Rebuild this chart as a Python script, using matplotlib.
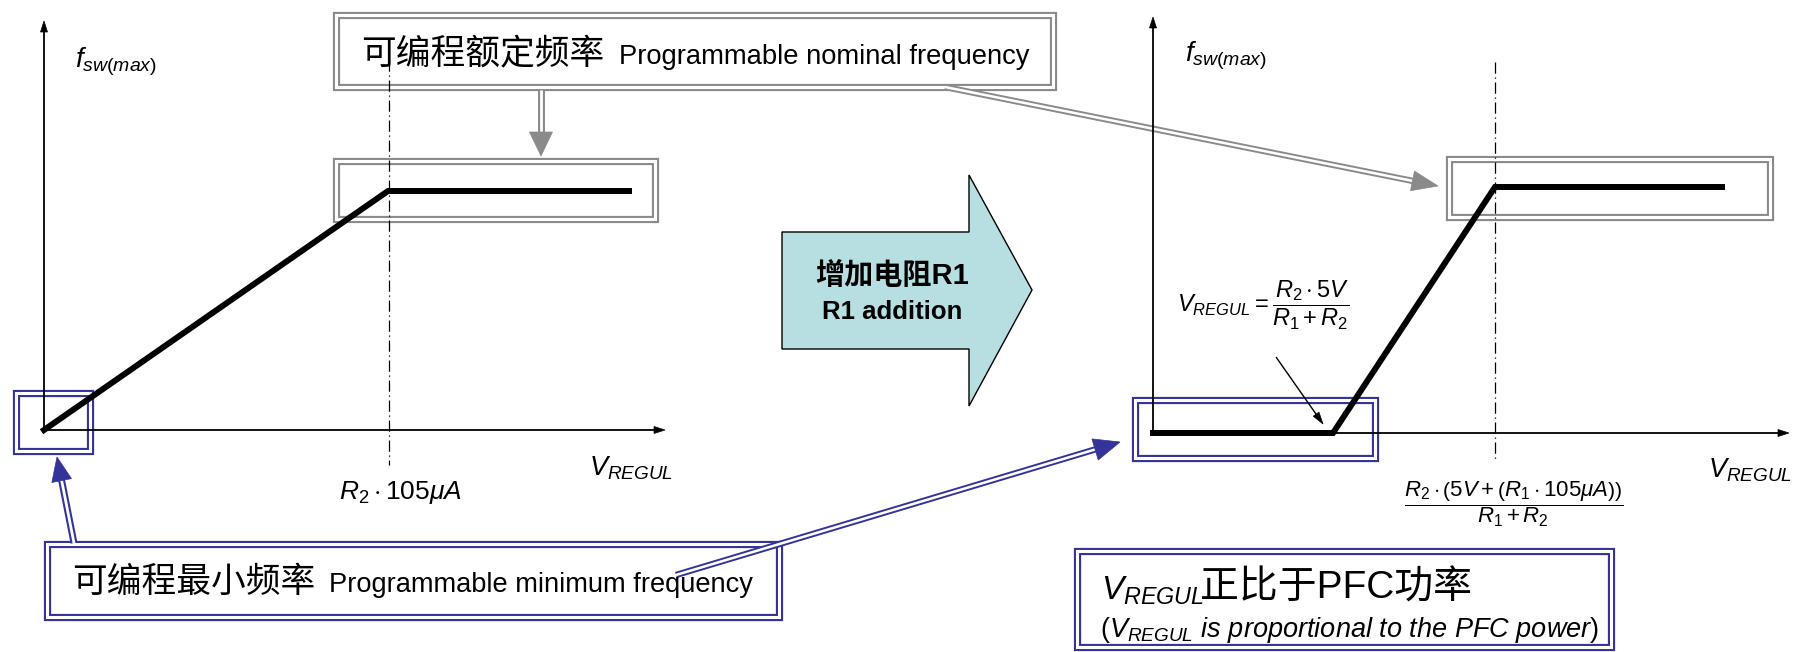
import numpy as np
import matplotlib
matplotlib.use("Agg")
import matplotlib.pyplot as plt
from matplotlib.patches import Polygon, Rectangle

plt.rcParams['mathtext.fontset'] = 'custom'
plt.rcParams['mathtext.rm'] = 'Liberation Sans'
plt.rcParams['mathtext.it'] = 'Liberation Sans:italic'
plt.rcParams['mathtext.bf'] = 'Liberation Sans:bold'

# diagram geometry, in pixels of the 1798x652 picture (y down)
left_curve_x = [44, 388, 629]
left_curve_y = [430, 191, 191]
right_curve_x = [1153, 1333, 1495, 1722]
right_curve_y = [433, 433, 187, 187]

left_origin = (44, 430)
left_axis_end = (665, 21)
right_origin = (1153, 433)
right_axis_end = (1789, 17)

left_mark_x = 389
right_mark_x = 1495

# boxes: x0, y0, x1, y1
gray_boxes = [(333, 12, 1056, 90), (333, 158, 658, 222), (1446, 156, 1773, 220)]
blue_boxes = [(13, 390, 93, 454), (44, 541, 782, 620), (1132, 397, 1378, 461), (1074, 548, 1614, 650)]

top_cn, top_en = "可编程额定频率", "Programmable nominal frequency"
bot_cn, bot_en = "可编程最小频率", "Programmable minimum frequency"
arrow_cn, arrow_en = "增加电阻R1", "R1 addition"

GRAY = '#8a8a8a'
BLUE = '#33339a'
TEAL = '#b7dfe1'
CN = ['Liberation Sans', 'Noto Sans CJK SC']

fig = plt.figure(figsize=(17.98, 6.52), dpi=100)
ax = fig.add_axes([0, 0, 1, 1])
ax.set_xlim(0, 1798)
ax.set_ylim(652, 0)
ax.axis('off')


def dbl_box(b, color):
    x0, y0, x1, y1 = b
    ax.add_patch(Rectangle((x0 + 3, y0 + 3), x1 - x0 - 6, y1 - y0 - 6, fill=False,
                           ec=color, lw=5.2, joinstyle='miter', zorder=2))
    ax.add_patch(Rectangle((x0 + 3, y0 + 3), x1 - x0 - 6, y1 - y0 - 6, fill=False,
                           ec='white', lw=2.2, joinstyle='miter', zorder=2))


def arrow(x0, y0, x1, y1, color, hl, hw, lw, double=False, z=3):
    d = np.array([x1 - x0, y1 - y0], float)
    d /= np.hypot(*d)
    p = np.array([-d[1], d[0]])
    base = np.array([x1, y1]) - d * hl
    ax.plot([x0, base[0] + d[0]], [y0, base[1] + d[1]], color=color, lw=lw,
            solid_capstyle='butt', zorder=z)
    if double:
        ax.plot([x0, base[0] + d[0]], [y0, base[1] + d[1]], color='white', lw=lw * 0.4,
                solid_capstyle='butt', zorder=z)
    tri = [(x1, y1), tuple(base + p * hw / 2), tuple(base - p * hw / 2)]
    ax.add_patch(Polygon(tri, closed=True, fc=color, ec=color, lw=0.5, zorder=z))


for b in gray_boxes:
    dbl_box(b, GRAY)
for b in blue_boxes:
    dbl_box(b, BLUE)

# axes
for (ox, oy), (ex, ey) in [(left_origin, left_axis_end), (right_origin, right_axis_end)]:
    arrow(ox, oy, ox, ey, 'black', 11, 7, 1.3, z=4)
    arrow(ox, oy, ex, oy, 'black', 11, 7, 1.3, z=4)

# dash-dot markers
ax.plot([left_mark_x, left_mark_x], [60, 465], color='black', lw=0.9,
        ls=(0, (9, 3, 1, 3)), zorder=3)
ax.plot([right_mark_x, right_mark_x], [62, 460], color='black', lw=0.9,
        ls=(0, (9, 3, 1, 3)), zorder=3)

# curves
ax.plot(left_curve_x, left_curve_y, color='black', lw=4.3, solid_joinstyle='miter', zorder=5)
ax.plot(right_curve_x, right_curve_y, color='black', lw=4.3, solid_joinstyle='miter', zorder=5)

# callout arrows
arrow(541, 90, 541, 156, GRAY, 24, 23, 5.0, double=True)
arrow(945, 87, 1438, 186, GRAY, 26, 20, 4.6, double=True)
arrow(74, 543, 57, 457, BLUE, 24, 20, 5.0, double=True)
arrow(676, 575, 1120, 442, BLUE, 26, 22, 4.6, double=True)
arrow(1276, 357, 1323, 424, 'black', 12, 7, 1.0)

# big teal arrow
big = [(782, 232), (969, 232), (969, 175), (1032, 290), (969, 406), (969, 349), (782, 349)]
ax.add_patch(Polygon(big, closed=True, fc=TEAL, ec='black', lw=1.0, zorder=2))
ax.text(892, 276, arrow_cn, ha='center', va='center', fontsize=21, fontweight='bold',
        family=CN, zorder=6)
ax.text(892, 312, arrow_en, ha='center', va='center', fontsize=18.5, fontweight='bold',
        family='Liberation Sans', zorder=6)

# box labels
ax.text(361, 64, top_cn, ha='left', va='baseline', fontsize=25, family=CN, zorder=6)
ax.text(619, 64, top_en, ha='left', va='baseline', fontsize=19.7, family='Liberation Sans', zorder=6)
ax.text(72, 592, bot_cn, ha='left', va='baseline', fontsize=25, family=CN, zorder=6)
ax.text(329, 592, bot_en, ha='left', va='baseline', fontsize=19.6, family='Liberation Sans', zorder=6)

# axis labels
ax.text(75, 68, r'$f_{sw(max)}$', fontsize=20, ha='left', va='baseline', zorder=6)
ax.text(1185, 62, r'$f_{sw(max)}$', fontsize=20, ha='left', va='baseline', zorder=6)
ax.text(589, 476, r'$V_{REGUL}$', fontsize=19.5, ha='left', va='baseline', zorder=6)
ax.text(1708, 478, r'$V_{REGUL}$', fontsize=19.5, ha='left', va='baseline', zorder=6)
ax.text(400, 492, r'$R_2 \cdot 105\mu A$', fontsize=19, ha='center', va='center', zorder=6)

# formulas
ax.text(1177, 305, r'$V_{REGUL} = \dfrac{R_2 \cdot 5V}{R_1 + R_2}$', fontsize=17,
        ha='left', va='center', zorder=6)
ax.text(1514, 504, r'$\dfrac{R_2 \cdot \left(5V + \left(R_1 \cdot 105\mu A\right)\right)}{R_1 + R_2}$',
        fontsize=16, ha='center', va='center', zorder=6)

# bottom right note
ax.text(1101, 600, r'$V_{REGUL}$', fontsize=24, ha='left', va='baseline', zorder=6)
ax.text(1200, 599, "正比于PFC功率", fontsize=28, ha='left', va='baseline',
        family=CN, zorder=6)
ax.text(1100, 637, r'($V_{REGUL}$ $\it{is\ proportional\ to\ the\ PFC\ power}$)', fontsize=19.5,
        ha='left', va='baseline', family='Liberation Sans', zorder=6)

fig.savefig('out.png', dpi=100)
